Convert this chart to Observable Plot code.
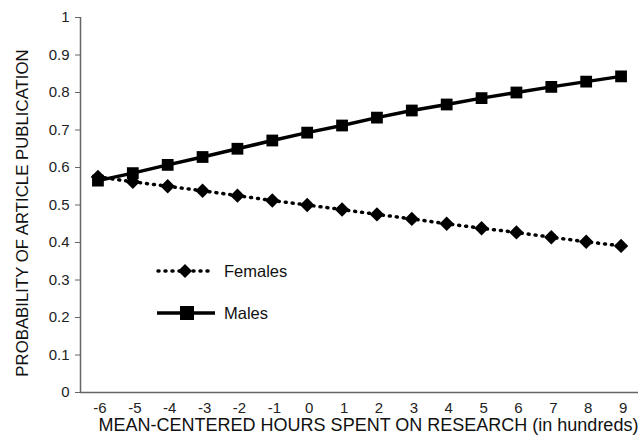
<!DOCTYPE html>
<html><head><meta charset="utf-8">
<script src="https://cdn.jsdelivr.net/npm/d3@7"></script>
<script src="https://cdn.jsdelivr.net/npm/@observablehq/plot@0.6"></script>
<style>
body{margin:0;background:#fff;font-family:"Liberation Sans",Arial,sans-serif;}
#wrap{position:relative;width:641px;height:440px;}
#legend{position:absolute;left:0;top:0;}
</style></head>
<body><div id="wrap"></div>
<script>
const hours = [-6,-5,-4,-3,-2,-1,0,1,2,3,4,5,6,7,8,9];
const males = [0.565,0.585,0.607,0.628,0.650,0.672,0.693,0.712,0.733,0.752,0.768,0.785,0.800,0.815,0.829,0.843];
const females = [0.575,0.562,0.550,0.538,0.525,0.512,0.500,0.488,0.475,0.463,0.450,0.438,0.427,0.414,0.402,0.391];
const yTicks = [0,0.1,0.2,0.3,0.4,0.5,0.6,0.7,0.8,0.9,1];
const seriesNames = ["Females","Males"];
const xTitle = "MEAN-CENTERED HOURS SPENT ON RESEARCH (in hundreds)";
const yTitle = "PROBABILITY OF ARTICLE PUBLICATION";

const M = hours.map((h,i)=>({x:h,y:males[i]}));
const F = hours.map((h,i)=>({x:h,y:females[i]}));

const chart = Plot.plot({
  width:641, height:440,
  marginLeft:80, marginTop:17, marginBottom:48, marginRight:3,
  style:{fontFamily:"'Liberation Sans', Arial, sans-serif", color:"#222", background:"#fff"},
  x:{domain:[-6.5,9.5]},
  y:{domain:[0,1]},
  marks:[
    Plot.axisY({ticks:yTicks, tickSize:5, tickPadding:6, fontSize:15, tickFormat:d=>String(+d.toFixed(1)), label:null, stroke:"#666"}),
    Plot.axisX({ticks:hours, tickSize:0, tickPadding:10, fontSize:15, tickFormat:d=>String(d), label:null, dx:2}),
    Plot.ruleY([0],{stroke:"#666", strokeWidth:1.5}),
    Plot.ruleX([-6.5],{stroke:"#666", strokeWidth:1.5}),
    Plot.text([yTitle],{frameAnchor:"left", textAnchor:"middle", lineAnchor:"middle", rotate:-90, dx:-58, dy:8, fontSize:16.8, fill:"#111"}),
    Plot.text([xTitle],{frameAnchor:"bottom", textAnchor:"middle", lineAnchor:"middle", dy:33, dx:9, fontSize:18, fill:"#111"}),
    Plot.line(F,{x:"x",y:"y",stroke:"#000",strokeWidth:3.5,strokeDasharray:"1,6",strokeLinecap:"round"}),
    Plot.dot(F,{x:"x",y:"y",symbol:"diamond2",r:6.5,fill:"#000",stroke:"none"}),
    Plot.line(M,{x:"x",y:"y",stroke:"#000",strokeWidth:3.5}),
    Plot.dot(M,{x:"x",y:"y",symbol:"square2",r:7.5,fill:"#000",stroke:"none"})
  ]
});
document.getElementById("wrap").appendChild(chart);

// legend overlay
const ns="http://www.w3.org/2000/svg";
const lg=document.createElementNS(ns,"svg");
lg.setAttribute("id","legend");lg.setAttribute("width",641);lg.setAttribute("height",440);
lg.innerHTML=`
<g font-family="'Liberation Sans', Arial, sans-serif" font-size="16.5" fill="#111">
 <line x1="158" y1="271" x2="208" y2="271" stroke="#000" stroke-width="3.5" stroke-dasharray="1,6" stroke-linecap="round"/>
 <path d="M185 264 L192 271 L185 278 L178 271 Z" fill="#000"/>
 <text x="224" y="271" dy="0.35em">${seriesNames[0]}</text>
 <line x1="157" y1="313" x2="215" y2="313" stroke="#000" stroke-width="3.5"/>
 <rect x="180" y="306" width="14" height="14" fill="#000"/>
 <text x="224" y="313" dy="0.35em">${seriesNames[1]}</text>
</g>`;
document.getElementById("wrap").appendChild(lg);
</script></body></html>
